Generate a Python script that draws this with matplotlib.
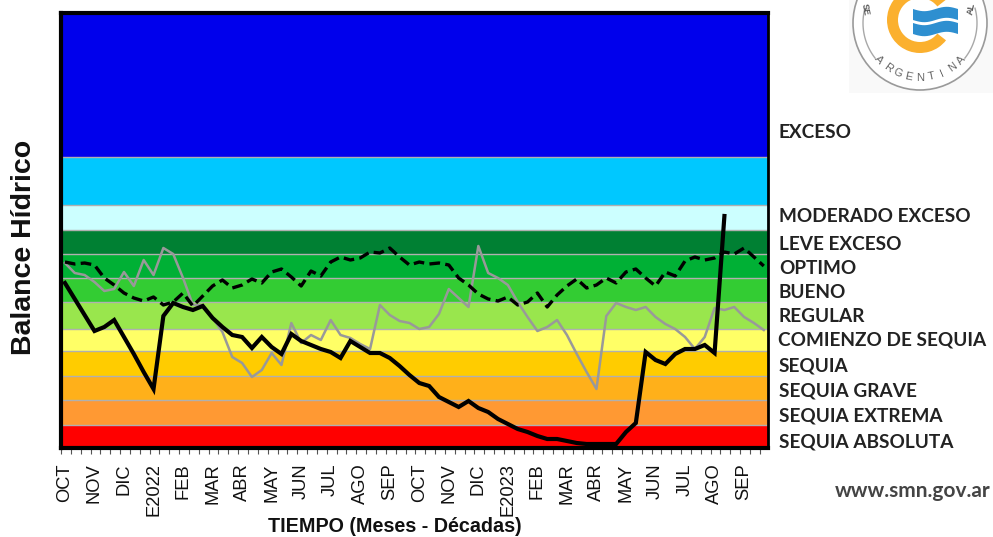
import numpy as np
import matplotlib
matplotlib.use("Agg")
import matplotlib.pyplot as plt
from matplotlib.patches import Circle, Wedge, Polygon, Rectangle

plt.rcParams['font.family'] = ['Liberation Sans', 'DejaVu Sans']

# height of each band edge, bottom to top
band_edges = [0, 22, 47, 71, 96, 118, 145, 169, 193, 217, 242, 290, 433]
band_colors = ['#FF0000', '#FF9933', '#FFB01A', '#FFCC00', '#FFFF66', '#99E64D',
               '#33CC33', '#00B035', '#008033', '#CCFFFF', '#00C8FF', '#0000EC']

current = [164, 148, 132, 116, 120, 127, 110, 93, 75, 58, 131, 144, 140, 137, 141, 129,
           120, 112, 110, 99, 110, 100, 93, 113, 106, 102, 98, 95, 89, 106, 100, 94, 94,
           89, 81, 72, 64, 61, 50, 45, 40, 46, 39, 35, 28, 23, 18, 15, 11, 8, 8, 6, 4,
           3, 3, 3, 3, 15, 24, 95, 87, 83, 93, 98, 98, 102, 94, 231]
previous = [184, 174, 172, 165, 156, 158, 175, 161, 187, 172, 199, 193, 169, 142, 142, 129,
            115, 90, 84, 70, 77, 94, 82, 124, 104, 112, 107, 127, 112, 109, 103, 98, 142,
            132, 126, 124, 118, 120, 133, 158, 149, 140, 201, 174, 169, 162, 145, 130,
            116, 120, 127, 112, 93, 75, 58, 131, 144, 140, 137, 140, 130, 123, 118, 110,
            98, 110, 139, 137, 140, 130, 124, 117]
normal = [185, 183, 184, 182, 169, 162, 154, 149, 146, 150, 142, 145, 154, 141, 151, 161,
          167, 159, 162, 168, 164, 175, 178, 170, 161, 176, 171, 185, 190, 187, 189, 195,
          194, 199, 190, 182, 185, 183, 184, 182, 169, 162, 153, 148, 146, 150, 142, 145,
          154, 140, 152, 161, 168, 159, 162, 169, 164, 175, 178, 169, 161, 175, 171, 186,
          190, 187, 189, 195, 193, 199, 190, 181]

months = ['OCT', 'NOV', 'DIC', 'E2022', 'FEB', 'MAR', 'ABR', 'MAY', 'JUN', 'JUL', 'AGO', 'SEP',
          'OCT', 'NOV', 'DIC', 'E2023', 'FEB', 'MAR', 'ABR', 'MAY', 'JUN', 'JUL', 'AGO', 'SEP']
classes = ['EXCESO', 'MODERADO EXCESO', 'LEVE EXCESO', 'OPTIMO', 'BUENO', 'REGULAR',
           'COMIENZO DE SEQUIA', 'SEQUIA', 'SEQUIA GRAVE', 'SEQUIA EXTREMA', 'SEQUIA ABSOLUTA']
class_y = [133, 217, 244, 269, 292, 316, 340, 366, 391, 416, 442]
class_x = [779, 779, 779, 779, 779, 779, 778, 779, 779, 779, 779]

W, H = 993, 537
fig = plt.figure(figsize=(W / 100, H / 100), dpi=100)
ax = fig.add_axes([61 / W, 1 - 448 / H, (768 - 61) / W, (448 - 13) / H])

for i in range(len(band_colors)):
    ax.axhspan(band_edges[i], band_edges[i + 1], color=band_colors[i], lw=0, zorder=1)
for e in band_edges[1:-1]:
    ax.axhline(e, color='#b0b0b0', lw=1, zorder=2)

ax.plot(range(len(previous)), previous, color='#999999', lw=1.8, zorder=3)
ax.plot(range(len(normal)), normal, color='black', lw=2.4, ls=(0, (3.2, 1.6)), zorder=4)
ax.plot(range(len(current)), current, color='black', lw=3, zorder=5, solid_joinstyle='miter')

ax.set_xlim((61 - 63) / 9.87, (768 - 63) / 9.87)
ax.set_ylim(-1, 434)
ax.set_yticks([])
for s in ['left', 'top', 'bottom']:
    ax.spines[s].set_linewidth(3)
ax.spines['right'].set_linewidth(2)

ax.set_xticks(np.arange(len(months)) * 3)
ax.set_xticklabels(months, rotation=90, fontsize=13.2, color='#111111')
ax.tick_params(axis='x', which='major', length=0, pad=11)
ax.set_xticks(np.arange(72) - 0.4, minor=True)
ax.tick_params(axis='x', which='minor', length=4.5, width=0.8, color='#555555')

# everything outside the plot goes on an overlay in pixel units
ov = fig.add_axes([0, 0, 1, 1])
ov.set_xlim(0, W)
ov.set_ylim(H, 0)
ov.axis('off')
ov.patch.set_alpha(0)

ov.text(24, 247, 'Balance Hídrico', rotation=90, ha='center', va='center',
        fontsize=20.5, fontweight='bold', color='#111111')
ov.text(395, 527, 'TIEMPO (Meses - Décadas)', ha='center', va='center',
        fontsize=14.2, fontweight='bold', color='#111111')
for c, x, y in zip(classes, class_x, class_y):
    ov.text(x, y, c, ha='left', va='center', fontsize=13.7, fontweight='bold',
            family=['Lato', 'DejaVu Sans'], color='#222222')
ov.text(913, 491, 'www.smn.gov.ar', ha='center', va='center', fontsize=15,
        fontweight='bold', family=['Lato', 'DejaVu Sans'], color='#444444')

# logo, cut off by the top edge
ov.add_patch(Rectangle((849, 0), 144, 93, color='#f9f9f9', lw=0))
ov.add_patch(Circle((920, 23), 67, fc='white', ec='#9a9a9a', lw=1.2))
ang = np.radians(np.linspace(52, 105, 30))
for side in [-1, 1]:
    ov.plot(920 + side * 57 * np.sin(ang), 23 + 57 * np.cos(ang), color='#a8a8a8', lw=1)
ov.add_patch(Wedge((920, 20), 33, 38, 322, width=11, color='#FBB02E', lw=0))
xs = np.linspace(913, 958, 20)
for top in [9, 23]:
    wave = 2.2 * np.sin((xs - 913) / 45 * 2 * np.pi)
    ov.add_patch(Polygon(np.r_[np.c_[xs, top + wave], np.c_[xs[::-1], top + 11 + wave[::-1]]],
                         color='#2E8FD0', lw=0))
for ch, a in zip('ARGENTINA', np.linspace(-48, 48, 9)):
    px = 920 + 55 * np.sin(np.radians(a))
    py = 23 + 55 * np.cos(np.radians(a))
    ov.text(px, py, ch, ha='center', va='center', fontsize=8, color='#666666', rotation=a)
ov.text(865, 9, 'SE', rotation=-80, ha='center', va='center', fontsize=6.5, fontweight='bold', color='#555555')
ov.text(971, 9, 'AL', rotation=80, ha='center', va='center', fontsize=6.5, fontweight='bold', color='#555555')

fig.savefig('out.png', dpi=100)
